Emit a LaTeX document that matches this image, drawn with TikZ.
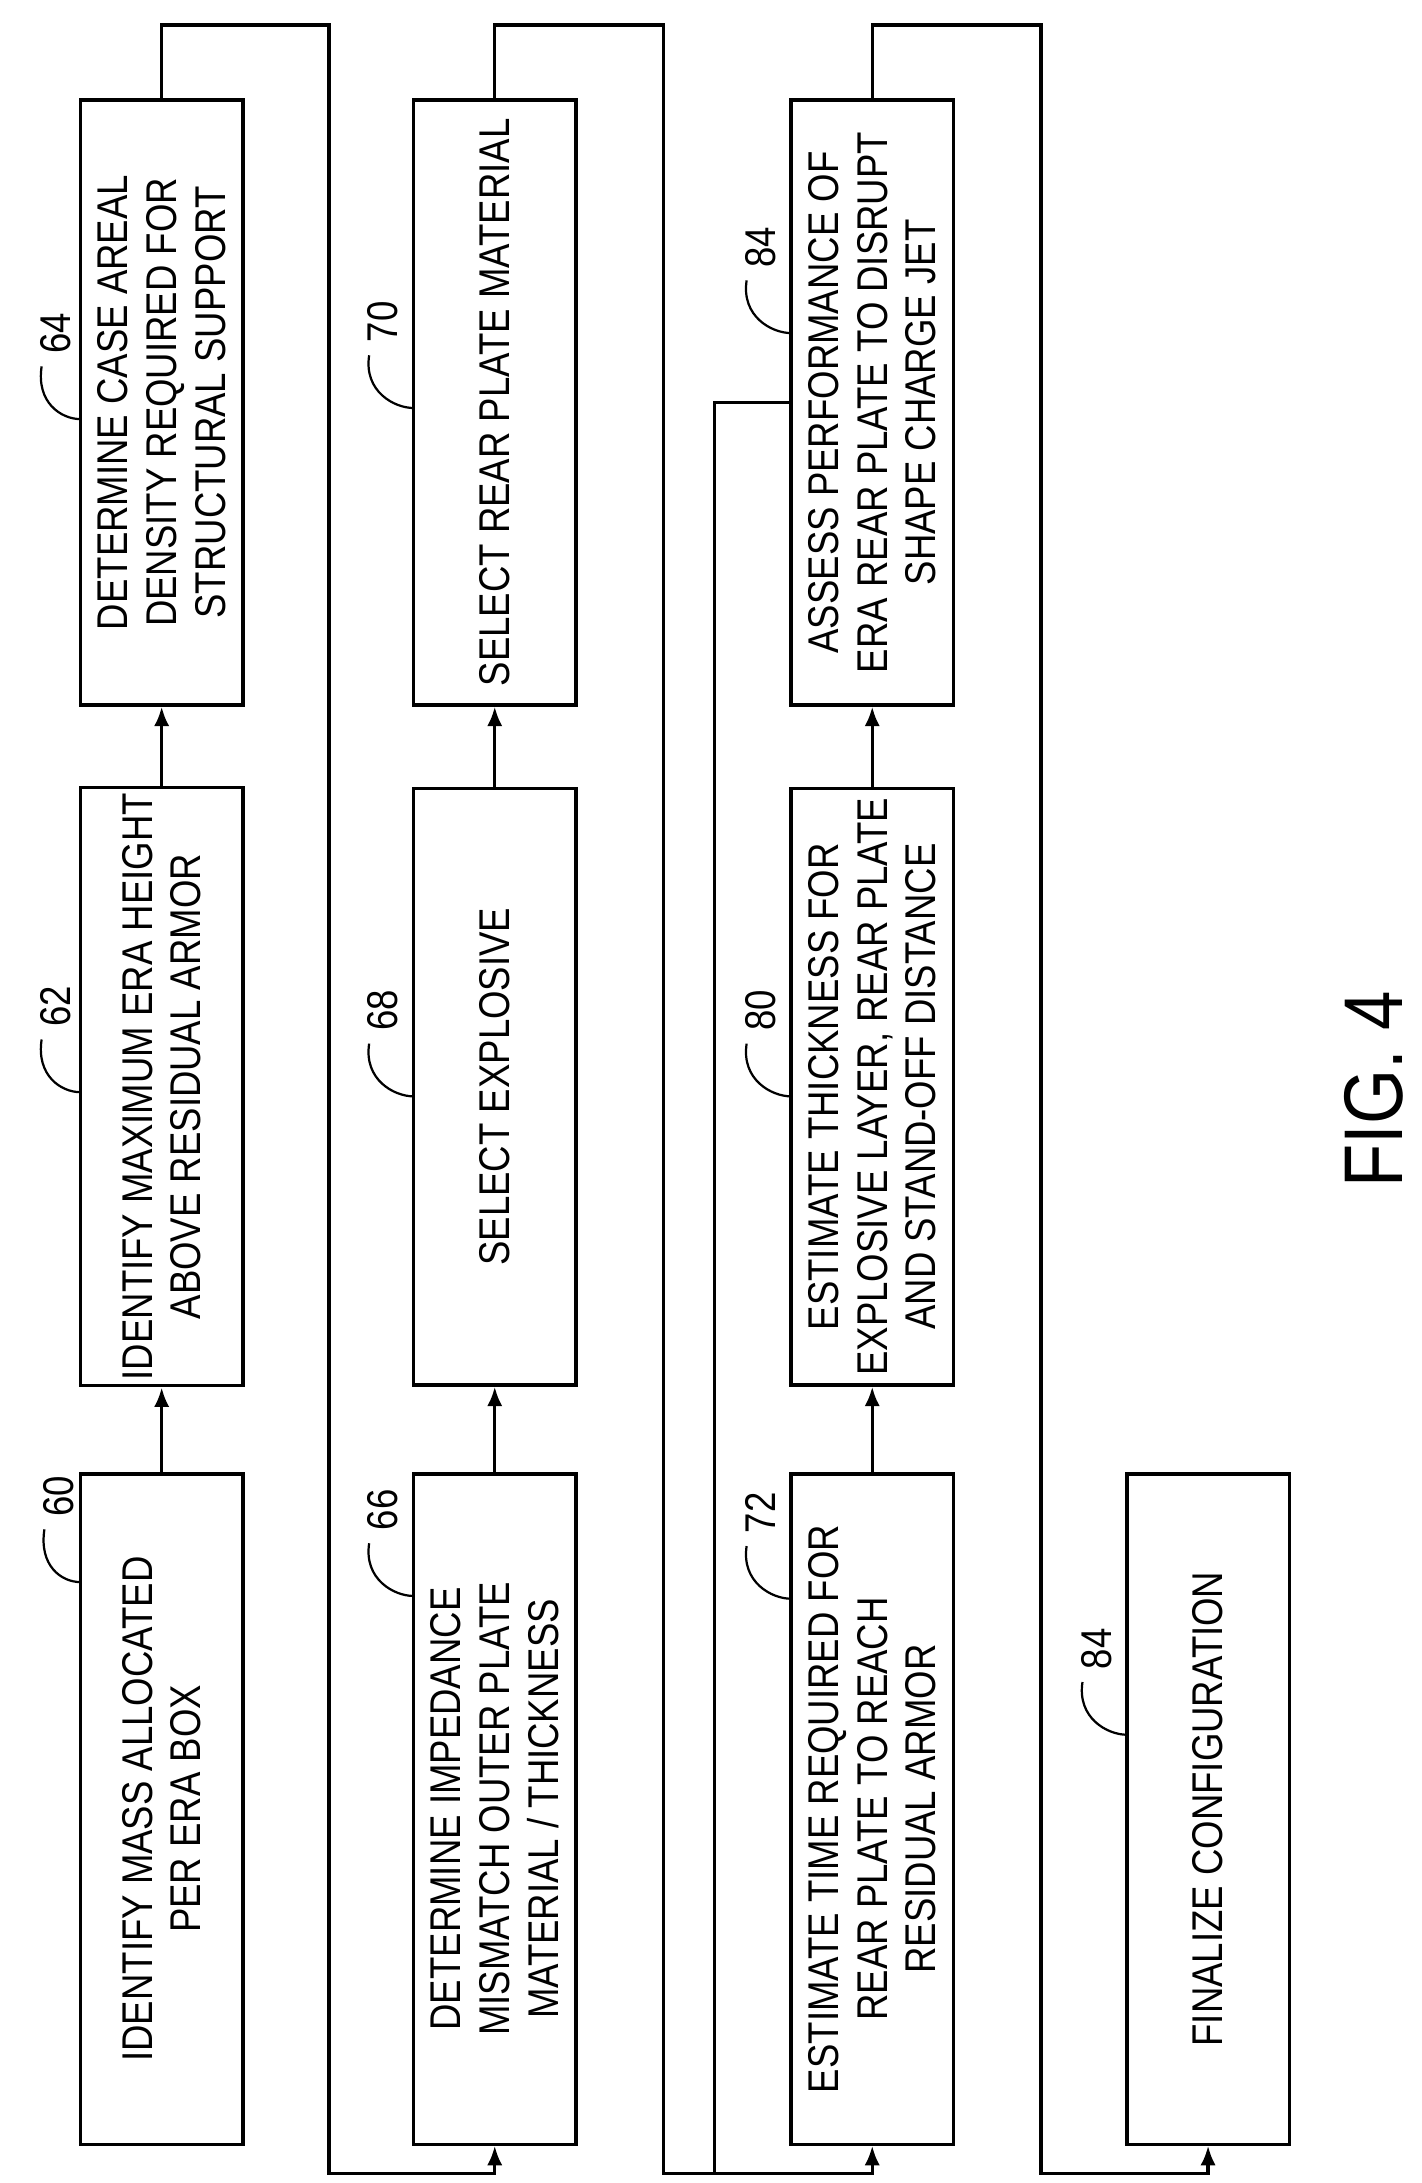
\documentclass[tikz,border=0pt]{standalone}
\usepackage{fontspec}
\setmainfont{Liberation Sans}[FakeStretch=0.85]
\usetikzlibrary{arrows.meta}
\begin{document}
\begin{tikzpicture}[x=0.5pt,y=-0.5pt]
\tikzstyle{box_style} = [draw, line width=1.2pt, rotate=90, minimum height=58.5pt, inner sep=2pt, align=center, font=\fontsize{15.5}{17.5}\selectfont]
\tikzstyle{edge_style} = [black, line width=1.2pt]
\tikzstyle{arrow_style} = [black, line width=1.2pt, -{Latex[length=7pt,width=5.5pt]}]
\tikzstyle{num_style} = [rotate=90, font=\fontsize{15.5}{17}\selectfont]
\tikzstyle{lead_style} = [black, line width=0.8pt]
    \useasboundingbox (0,0) rectangle (1024,1573);

    \node[box_style, minimum width=241.5pt] (v60) at (116.5,1303.5) {IDENTIFY MASS ALLOCATED\\PER ERA BOX};
    \node[box_style, minimum width=215pt] (v62) at (116.5,783) {IDENTIFY MAXIMUM ERA HEIGHT\\ABOVE RESIDUAL ARMOR};
    \node[box_style, minimum width=218pt] (v64) at (116.5,290) {DETERMINE CASE AREAL\\DENSITY REQUIRED FOR\\STRUCTURAL SUPPORT};

    \node[box_style, minimum width=241.5pt] (v66) at (356.5,1303.5) {DETERMINE IMPEDANCE\\MISMATCH OUTER PLATE\\MATERIAL / THICKNESS};
    \node[box_style, minimum width=215pt] (v68) at (356.5,783) {SELECT EXPLOSIVE};
    \node[box_style, minimum width=218pt] (v70) at (356.5,290) {SELECT REAR PLATE MATERIAL};

    \node[box_style, minimum width=241.5pt] (v72) at (628.5,1303.5) {ESTIMATE TIME REQUIRED FOR\\REAR PLATE TO REACH\\RESIDUAL ARMOR};
    \node[box_style, minimum width=215pt] (v80) at (628.5,783) {ESTIMATE THICKNESS FOR\\EXPLOSIVE LAYER, REAR PLATE\\AND STAND-OFF DISTANCE};
    \node[box_style, minimum width=218pt] (v84) at (628.5,290) {ASSESS PERFORMANCE OF\\ERA REAR PLATE TO DISRUPT\\SHAPE CHARGE JET};

    \node[box_style, minimum width=241.5pt] (v86) at (870.5,1303.5) {FINALIZE CONFIGURATION};

    \draw[arrow_style] (v60.east) -- (v62.west);
    \draw[arrow_style] (v62.east) -- (v64.west);
    \draw[arrow_style] (v66.east) -- (v68.west);
    \draw[arrow_style] (v68.east) -- (v70.west);
    \draw[arrow_style] (v72.east) -- (v80.west);
    \draw[arrow_style] (v80.east) -- (v84.west);

    \coordinate (c1) at (116.5,18);
    \coordinate (c2) at (237,18);
    \coordinate (c3) at (237,1566);
    \coordinate (c4) at (356.5,1566);
    \draw[arrow_style] (v64.east) -- (c1) -- (c2) -- (c3) -- (c4) -- (v66.west);

    \coordinate (c5) at (356.5,18);
    \coordinate (c6) at (478,18);
    \coordinate (c7) at (478,1566);
    \coordinate (c8) at (628.5,1566);
    \draw[arrow_style] (v70.east) -- (c5) -- (c6) -- (c7) -- (c8) -- (v72.west);

    \coordinate (b1) at (515,1566);
    \draw[edge_style] (b1) |- (v84.north);

    \coordinate (c9) at (628.5,18);
    \coordinate (c10) at (750,18);
    \coordinate (c11) at (750,1566);
    \coordinate (c12) at (870.5,1566);
    \draw[arrow_style] (v84.east) -- (c9) -- (c10) -- (c11) -- (c12) -- (v86.west);

    % reference numerals with leaders
    \foreach \n/\t/\lx/\ly/\bx in {n60/60/42/1078/58, n62/62/40/725/58, n64/64/40/240/58,
        n66/66/276/1088/298, n68/68/276/728/298, n70/70/276/232/298,
        n72/72/548/1090/570, n80/80/548/728/570, n84/84/548/178/570, n84b/84/790/1188/812} {
        \node[num_style] (\n) at (\lx,\ly) {\t};
        \draw[lead_style] (\lx-10,\ly+24) .. controls (\lx-14,\ly+50) and (\bx-14,\ly+62) .. (\bx,\ly+62);
    }

    \node[rotate=90, font=\fontsize{30}{32}\selectfont] (fig) at (990,785) {FIG. 4};
\end{tikzpicture}
\end{document}
